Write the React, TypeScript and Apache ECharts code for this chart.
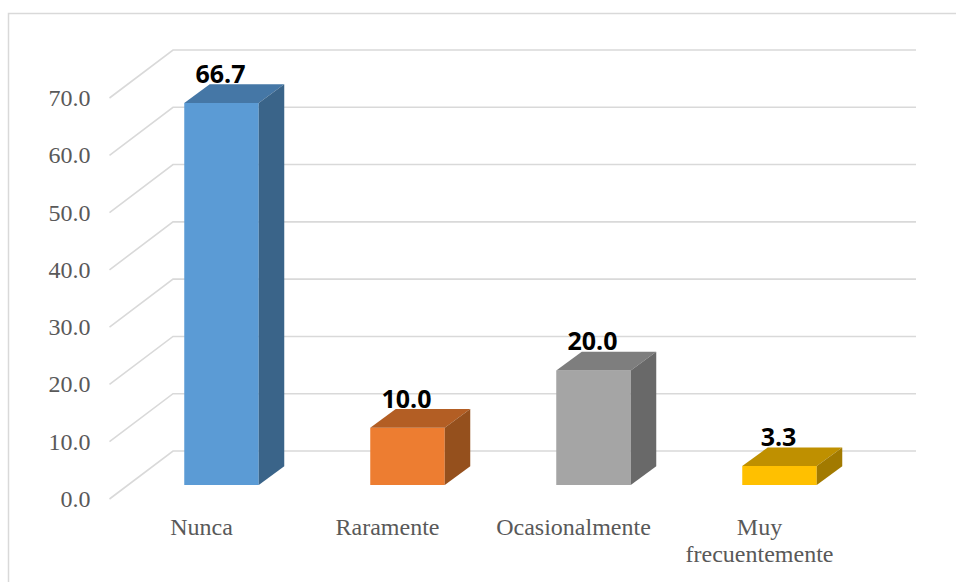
import React, { useEffect, useRef } from "react";
import * as echarts from "echarts";

const categories = ["Nunca", "Raramente", "Ocasionalmente", "Muy\nfrecuentemente"];
const values = [66.7, 10.0, 20.0, 3.3];
const frontColors = ["#5B9BD5", "#ED7D31", "#A5A5A5", "#FFC000"];
const topColors = ["#4577A6", "#B35E24", "#7E7E7E", "#BF9000"];
const sideColors = ["#3A6489", "#95501D", "#696969", "#A27A00"];
const gridTicks = [0, 10, 20, 30, 40, 50, 60, 70];

const WALL_DX = 63.5;
const WALL_DY = -48;
const BAR_DX = 19;
const BAR_DY = -14;
const DEPTH_DX = 25.5;
const DEPTH_DY = -18.7;
const BAR_W = 74.5;

export default function App() {
  const ref = useRef<HTMLDivElement>(null);
  useEffect(() => {
    document.body.style.margin = "0";
    const chart = echarts.init(ref.current!, undefined, { renderer: "svg" });
    chart.setOption({
      animation: false,
      backgroundColor: "#ffffff",
      graphic: [
        {
          type: "polyline",
          silent: true,
          shape: { points: [[8.5, 582], [8.5, 13.5], [956, 13.5]] },
          style: { fill: "none", stroke: "#D9D9D9", lineWidth: 1.5 },
        },
      ],
      grid: { left: 109.5, top: 98, width: 744, height: 401 },
      xAxis: {
        type: "category",
        data: categories,
        axisLine: { show: false },
        axisTick: { show: false },
        splitLine: { show: false },
        axisLabel: {
          interval: 0,
          margin: 14,
          color: "#595959",
          fontFamily: "Liberation Serif",
          fontSize: 24,
          lineHeight: 27,
          padding: [0, 2, 0, 0],
        },
      },
      yAxis: {
        type: "value",
        min: 0,
        max: 70,
        interval: 10,
        axisLine: { show: false },
        axisTick: { show: false },
        splitLine: { show: false },
        axisLabel: {
          margin: 19,
          color: "#595959",
          fontFamily: "Liberation Serif",
          fontSize: 24,
          padding: [0, 0, 2, 0],
          formatter: (v: number) => v.toFixed(1),
        },
      },
      series: [
        {
          type: "custom",
          silent: true,
          z: 1,
          data: gridTicks.map((t) => [0, t]),
          encode: { x: 0, y: 1 },
          clip: false,
          renderItem: (params: any, api: any) => {
            const y = api.coord([0, api.value(1)])[1];
            const left = params.coordSys.x;
            const right = params.coordSys.x + params.coordSys.width;
            return {
              type: "polyline",
              shape: {
                points: [
                  [left, y],
                  [left + WALL_DX, y + WALL_DY],
                  [right + WALL_DX - 1, y + WALL_DY],
                ],
              },
              style: { fill: "none", stroke: "#D9D9D9", lineWidth: 1.6 },
            };
          },
        },
        {
          type: "custom",
          silent: true,
          z: 2,
          data: values.map((v, i) => [i, v]),
          encode: { x: 0, y: 1 },
          clip: false,
          renderItem: (params: any, api: any) => {
            const i = params.dataIndex;
            const v = api.value(1);
            const top = api.coord([i, v]);
            const base = api.coord([i, 0]);
            const x0 = top[0] + BAR_DX - BAR_W / 2;
            const x1 = x0 + BAR_W;
            const yt = top[1] + BAR_DY;
            const yb = base[1] + BAR_DY;
            return {
              type: "group",
              children: [
                {
                  type: "polygon",
                  shape: { points: [[x0, yt], [x1, yt], [x1, yb], [x0, yb]] },
                  style: { fill: frontColors[i] },
                },
                {
                  type: "polygon",
                  shape: {
                    points: [
                      [x0, yt],
                      [x0 + DEPTH_DX, yt + DEPTH_DY],
                      [x1 + DEPTH_DX, yt + DEPTH_DY],
                      [x1, yt],
                    ],
                  },
                  style: { fill: topColors[i] },
                },
                {
                  type: "polygon",
                  shape: {
                    points: [
                      [x1, yt],
                      [x1 + DEPTH_DX, yt + DEPTH_DY],
                      [x1 + DEPTH_DX, yb + DEPTH_DY],
                      [x1, yb],
                    ],
                  },
                  style: { fill: sideColors[i] },
                },
                {
                  type: "text",
                  z2: 10,
                  style: {
                    text: v.toFixed(1),
                    x: (x0 + x1) / 2 - 1,
                    y: yt + DEPTH_DY + 1,
                    align: "center",
                    verticalAlign: "bottom",
                    fontFamily: "Open Sans",
                    fontWeight: "bold",
                    fontSize: 25,
                    fill: "#000000",
                  },
                },
              ],
            };
          },
        },
      ],
    });
    return () => chart.dispose();
  }, []);
  return <div ref={ref} style={{ width: 956, height: 582 }} />;
}
